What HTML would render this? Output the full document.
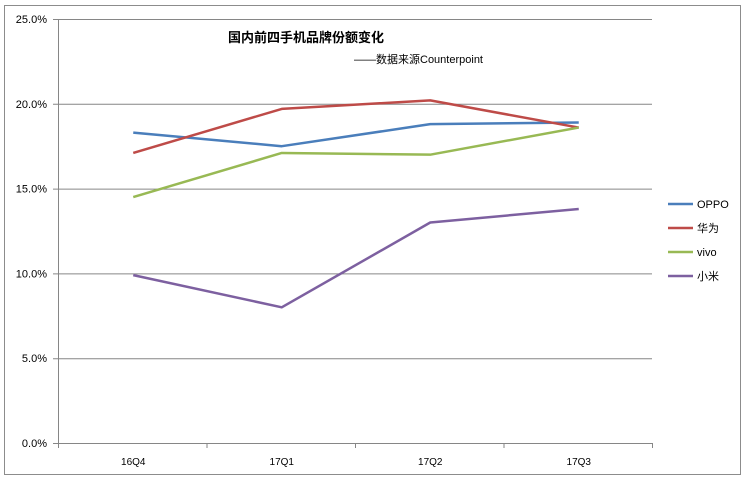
<!DOCTYPE html>
<html><head><meta charset="utf-8"><style>
body{margin:0;background:#fff;}
svg{display:block;font-family:"Liberation Sans","Noto Sans CJK SC",sans-serif;}
</style></head><body>
<svg id="c" width="745" height="478">
<rect x="4.5" y="5.5" width="736" height="469" fill="#fff" stroke="#8c8c8c"/>
<text x="228" y="42" font-size="13" font-weight="bold" fill="#000">国内前四手机品牌份额变化</text>
<text x="354" y="63" font-size="11" fill="#000">——数据来源Counterpoint</text>
<g id="grid"></g><g id="series"></g><g id="legend"></g>
</svg>
<script>
const categories=["16Q4","17Q1","17Q2","17Q3"];
const yTicks=[0,5,10,15,20,25];
const seriesNames=["OPPO","华为","vivo","小米"];
const oppo=[18.3,17.5,18.8,18.9];
const huawei=[17.1,19.7,20.2,18.6];
const vivo=[14.5,17.1,17.0,18.6];
const xiaomi=[9.9,8.0,13.0,13.8];
const seriesData=[oppo,huawei,vivo,xiaomi];
const colors=["#4a7ebb","#be4b48","#98b954","#7d60a0"];
const NS="http://www.w3.org/2000/svg";
const L=58,R=652,T=19,B=443;
const band=(R-L)/categories.length;
const x=i=>L+band*(i+0.5)+1;
const y=v=>B-(v/25)*(B-T);
function mk(t,a,p){const e=document.createElementNS(NS,t);for(const k in a)e.setAttribute(k,a[k]);p.appendChild(e);return e;}
const g=document.getElementById('grid');
yTicks.forEach(v=>{
 const ln=mk('line',{x1:53,x2:R,y1:y(v)+0.5,y2:y(v)+0.5,stroke:'#868686'},g);
 
 
 const t=mk('text',{x:47,y:y(v)+4,'text-anchor':'end','font-size':11,fill:'#000'},g);
 t.textContent=v.toFixed(1)+'%';
 
 
});
const ax=mk('line',{x1:L+0.5,x2:L+0.5,y1:T,y2:B+5,stroke:'#868686'},g);


categories.forEach((c,i)=>{
 const tk=mk('line',{x1:L+band*(i+1)+0.5,x2:L+band*(i+1)+0.5,y1:B,y2:B+5,stroke:'#868686'},g);
 
 
 const t=mk('text',{x:x(i),y:B+22,'text-anchor':'middle','font-size':10,fill:'#000'},g);
 t.textContent=c;
 
 
});
const s=document.getElementById('series');
const lg=document.getElementById('legend');
seriesData.forEach((d,k)=>{
 const p=mk('polyline',{points:d.map((v,i)=>x(i)+','+y(v)).join(' '),fill:'none',stroke:colors[k],'stroke-width':2.5,'stroke-linejoin':'round'},s);
 
 
 const ly=204+k*24;
 const ll=mk('line',{x1:668,x2:693,y1:ly,y2:ly,stroke:colors[k],'stroke-width':2.5},lg);
 
 
 const lt=mk('text',{x:697,y:ly+4,'font-size':11,fill:'#000'},lg);
 lt.textContent=seriesNames[k];
 
 
});
</script>
</body></html>
